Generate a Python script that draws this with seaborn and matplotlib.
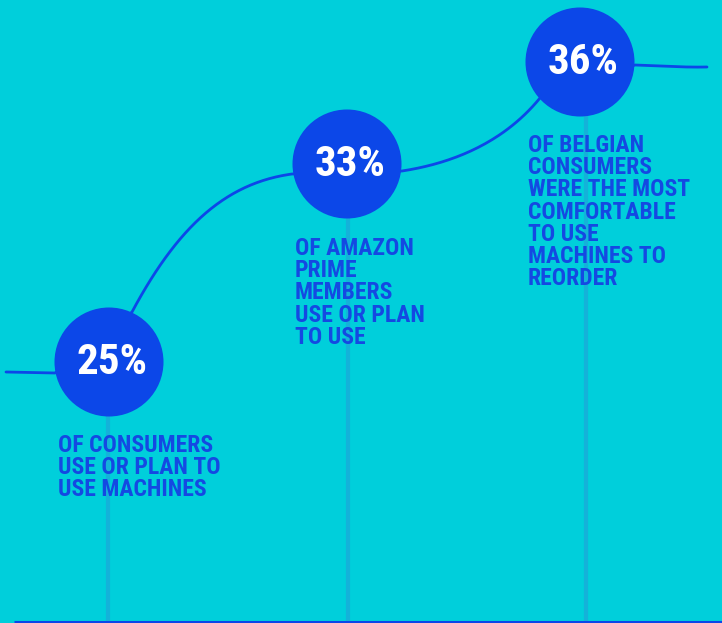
import numpy as np
import pandas as pd
import matplotlib
matplotlib.use('Agg')
import matplotlib.pyplot as plt
from matplotlib.patches import Circle
from matplotlib import font_manager
import seaborn as sns

# chart data
values = [25, 33, 36]
labels = [
    "OF CONSUMERS\nUSE OR PLAN TO\nUSE MACHINES",
    "OF AMAZON\nPRIME\nMEMBERS\nUSE OR PLAN\nTO USE",
    "OF BELGIAN\nCONSUMERS\nWERE THE MOST\nCOMFORTABLE\nTO USE\nMACHINES TO\nREORDER",
]

# layout (pixel space)
cx = [109, 347, 580]
cy = [362, 164, 62]
stem_x = [108, 348, 586]
radius = 54.5

bg = '#00cfdb'
blue = '#0c47e8'
text_blue = '#1449e2'
stem_col = '#14b2d9'

installed = {f.name for f in font_manager.fontManager.ttflist}
condensed = 'Roboto Condensed' in installed
fonts = ['Roboto Condensed', 'Roboto', 'DejaVu Sans'] if condensed else ['Roboto', 'DejaVu Sans']
pct_size = 31 if condensed else 26.5
lab_size = 17 if condensed else 14.8

sns.set_style('white')


def bezier(p0, c1, c2, p3, n=60):
    t = np.linspace(0, 1, n)[:, None]
    p0, c1, c2, p3 = map(np.array, (p0, c1, c2, p3))
    return (1 - t) ** 3 * p0 + 3 * (1 - t) ** 2 * t * c1 + 3 * (1 - t) * t ** 2 * c2 + t ** 3 * p3


# connector curve built from the circle positions
segs = [
    np.array([[6, 372], [cx[0] - 54, 373], [cx[0] + 23, 312]]),
    bezier((cx[0] + 23, 312), (178, 226), (226, 183), (cx[1] - 55, cy[1] + 10)),
    np.array([[cx[1] - 55, cy[1] + 10], [cx[1] + 55, cy[1] + 7]]),
    bezier((cx[1] + 55, cy[1] + 7), (454, 163), (504, 142), (cx[2] - 40, cy[2] + 36)),
    np.array([[cx[2] - 40, cy[2] + 36], [cx[2] + 55, cy[2] + 3]]),
    bezier((cx[2] + 55, cy[2] + 3), (660, 66), (685, 67.5), (707, 67)),
]
curve = pd.DataFrame(np.vstack(segs), columns=['x', 'y'])

fig = plt.figure(figsize=(7.22, 6.23), dpi=100)
fig.patch.set_facecolor(bg)
ax = fig.add_axes([0, 0, 1, 1])
ax.set_facecolor(bg)
ax.set_xlim(0, 722)
ax.set_ylim(623, 0)
ax.axis('off')

# vertical stems
for i in range(3):
    stem = pd.DataFrame({'x': [stem_x[i], stem_x[i]], 'y': [cy[i], 622]})
    sns.lineplot(data=stem, x='x', y='y', color=stem_col, lw=3, ax=ax, sort=False,
                 estimator=None, zorder=1)

# bottom rule
ax.plot([14, 722], [622, 622], color=blue, lw=2.2, zorder=2, solid_capstyle='butt')

sns.lineplot(data=curve, x='x', y='y', color=blue, lw=2, ax=ax, sort=False,
             estimator=None, zorder=2)

for i in range(3):
    ax.add_patch(Circle((cx[i], cy[i]), radius, color=blue, zorder=3, lw=0))
    ax.text(cx[i] + 3, cy[i] + 1, f"{values[i]}%", color='white', fontsize=pct_size,
            fontweight='bold', family=fonts, ha='center', va='center', zorder=4)

label_pos = [(58, 434), (295, 237), (528, 134)]
for (x, y), lab in zip(label_pos, labels):
    ax.text(x, y, lab, color=text_blue, fontsize=lab_size, fontweight='bold', family=fonts,
            ha='left', va='top', linespacing=0.955 if condensed else 1.1, zorder=4)

fig.savefig('out.png', dpi=100, facecolor=bg)
